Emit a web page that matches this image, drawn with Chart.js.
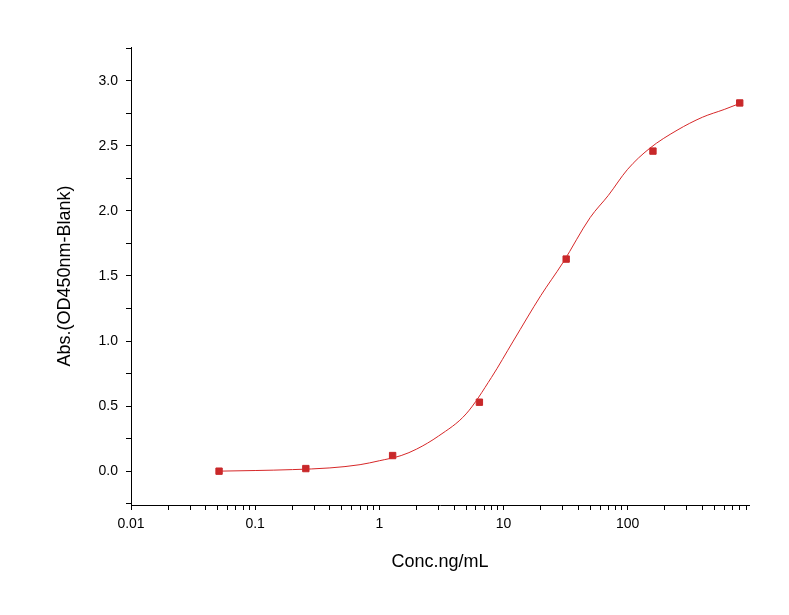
<!DOCTYPE html>
<html><head><meta charset="utf-8">
<script src="https://cdn.jsdelivr.net/npm/chart.js@4"></script>
<style>html,body{margin:0;padding:0;background:#fff}#w{width:789px;height:615px}</style>
</head><body><div id="w"><canvas id="c" width="789" height="615"></canvas></div>
<script>
const concentrations = [0.0512, 0.256, 1.28, 6.4, 32, 160, 800];
const absorbance = [0.0, 0.02, 0.12, 0.53, 1.63, 2.46, 2.83];
const curveX = [0.05, 0.1, 0.2, 0.4, 0.7, 1, 1.5, 2, 3, 5, 8, 12, 20, 30, 50, 70, 100, 150, 250, 400, 600, 820];
const curveY = [0.0, 0.005, 0.012, 0.025, 0.05, 0.08, 0.12, 0.17, 0.27, 0.44, 0.72, 1.0, 1.35, 1.6, 1.95, 2.12, 2.32, 2.48, 2.62, 2.72, 2.78, 2.83];
const xMajor = [0.01, 0.1, 1, 10, 100];
const yMajor = [0, 0.5, 1, 1.5, 2, 2.5, 3];

const red = '#d62728';
const font = {family: '"Liberation Sans", Arial, sans-serif', size: 14};
new Chart(document.getElementById('c'), {
  type: 'scatter',
  data: { datasets: [
    { type: 'line', data: curveX.map((x,i)=>({x, y: curveY[i]})), borderColor: red, borderWidth: 1, pointRadius: 0, cubicInterpolationMode: 'monotone', fill: false },
    { data: concentrations.map((x,i)=>({x, y: absorbance[i]})), backgroundColor: '#c8282a', borderColor: '#c8282a', pointStyle: 'rect', pointRadius: 4.5 }
  ]},
  options: {
    responsive: false, animation: false,
    layout: { padding: { left: 50, top: 47, right: 40, bottom: 38 } },
    plugins: { legend: { display: false }, tooltip: { enabled: false } },
    scales: {
      x: {
        type: 'logarithmic', min: 0.01, max: 950,
        afterFit: s => { s.height = 72; },
        afterBuildTicks: s => {
          const t = [];
          for (let d = 0.01; d < 1000; d *= 10) for (let k = 1; k <= 9; k++) { const v = +(d*k).toPrecision(3); if (v <= 950) t.push({value: v, major: k === 1}); }
          s.ticks = t;
        },
        grid: { drawOnChartArea: false, color: '#000', tickLength: 5 },
        border: { color: '#000', width: 1 },
        ticks: { color: '#000', font, autoSkip: false, maxRotation: 0, padding: 6,
          callback: v => xMajor.includes(+(+v).toPrecision(3)) ? String(+(+v).toPrecision(3)) : '' },
        title: { display: true, text: 'Conc.ng/mL', color: '#000', font: {family: font.family, size: 18}, padding: {top: 0} }
      },
      y: {
        min: -0.26, max: 3.26,
        afterFit: s => { s.width = 81; },
        afterBuildTicks: s => {
          const t = [];
          for (let v = -0.25; v <= 3.26; v += 0.25) t.push({value: +v.toFixed(2)});
          s.ticks = t;
        },
        grid: { drawOnChartArea: false, color: '#000', tickLength: 5 },
        border: { color: '#000', width: 1 },
        ticks: { color: '#000', font, autoSkip: false, padding: 8,
          callback: v => yMajor.includes(+(+v).toFixed(2)) ? (+v).toFixed(1) : '' },
        title: { display: true, text: 'Abs.(OD450nm-Blank)', color: '#000', font: {family: font.family, size: 18}, padding: {bottom: 0} }
      }
    }
  }
});
</script></body></html>
